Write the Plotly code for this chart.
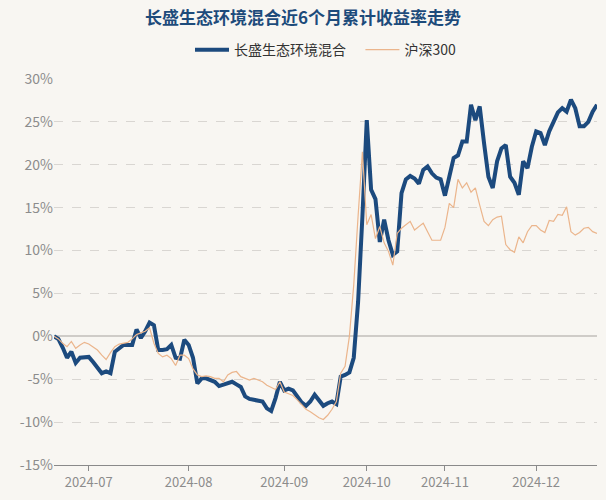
import pandas as pd
import plotly.graph_objects as go

title = "长盛生态环境混合近6个月累计收益率走势"
fund_name = "长盛生态环境混合"
index_name = "沪深300"

# trading days 2024-06-19 .. 2024-12-20 (A-share calendar)
holidays = ["2024-09-16", "2024-09-17", "2024-10-01", "2024-10-02",
            "2024-10-03", "2024-10-04", "2024-10-07"]
dates = [d.strftime("%Y-%m-%d") for d in pd.bdate_range("2024-06-19", "2024-12-20")
         if d.strftime("%Y-%m-%d") not in holidays]

fund = [
    0.0, -0.3, -1.3, -2.5, -1.8, -3.1, -2.5, -2.4, -2.4, -3.0,
    -3.6, -4.3, -4.1, -4.3, -1.8, -1.4, -1.0, -1.0, -1.0, 0.8,
    -0.2, 0.6, 1.6, 1.3, -1.6, -1.6, -1.5, -1.0, -2.5, -2.6,
    -0.4, -1.0, -2.5, -5.5, -4.9, -4.9, -5.1, -5.3, -5.8, -5.6,
    -5.5, -5.3, -5.6, -5.9, -7.0, -7.3, -7.4, -7.5, -7.6, -8.4,
    -8.7, -7.2, -5.3, -6.3, -6.1, -6.3, -7.1, -7.7, -8.1, -7.6,
    -6.8, -7.5, -8.1, -7.8, -7.6, -7.9, -4.7, -4.5, -4.2, -2.5,
    4.0, 14.0, 25.2, 17.1, 16.0, 11.0, 13.6, 11.2, 9.5, 9.9,
    16.7, 18.3, 18.7, 18.4, 17.8, 19.4, 19.8, 19.0, 18.5, 18.3,
    16.4, 18.6, 20.8, 21.1, 22.7, 22.7, 27.0, 25.2, 26.8, 22.5,
    18.6, 17.3, 20.4, 21.9, 22.3, 18.6, 17.9, 16.5, 20.4, 19.6,
    22.1, 23.9, 23.7, 22.3, 23.9, 25.0, 26.1, 26.6, 26.2, 27.6,
    26.6, 24.5, 24.5, 25.0, 26.2, 27.0,
]

hs300 = [
    0.0, -0.3, -0.8, -1.2, -0.6, -1.4, -1.0, -0.7, -0.9, -1.2,
    -1.6, -2.2, -2.7, -1.9, -1.2, -0.9, -0.8, -0.7, -0.3, 0.2,
    0.4, 0.6, 1.0, -0.8, -2.0, -2.4, -2.2, -2.6, -3.4, -2.2,
    -2.2, -2.6, -3.8, -4.5, -4.7, -4.6, -4.7, -4.9, -4.9, -5.3,
    -4.5, -4.2, -4.1, -4.7, -4.9, -5.1, -4.9, -5.1, -5.3, -5.7,
    -6.0, -6.2, -5.3, -6.5, -6.7, -6.9, -7.4, -7.9, -8.5, -8.8,
    -9.2, -9.5, -9.7, -9.2, -8.5, -7.6, -4.3, -3.5, 0.0, 6.0,
    14.0, 21.5, 13.0, 14.2, 11.4, 12.8, 10.9, 9.9, 8.3, 12.0,
    12.6, 13.0, 13.4, 12.4, 12.8, 13.2, 12.2, 11.2, 11.2, 11.2,
    12.7, 15.5, 15.0, 18.3, 17.3, 17.9, 16.8, 17.3, 15.3, 13.4,
    12.9, 13.6, 13.9, 14.0, 10.7, 10.1, 9.8, 11.6, 10.9, 12.2,
    12.9, 12.9, 12.4, 12.1, 13.5, 13.4, 14.2, 14.1, 15.1, 12.2,
    11.8, 12.1, 12.6, 12.7, 12.2, 12.0,
]

x_tick_dates = ["2024-07-01", "2024-08-01", "2024-09-02", "2024-10-08", "2024-11-01", "2024-12-02"]
x_tick_text = ["2024-07", "2024-08", "2024-09", "2024-10", "2024-11", "2024-12"]
y_ticks = [-15, -10, -5, 0, 5, 10, 15, 20, 25, 30]
y_tick_text = [f"{v}%" for v in y_ticks]

FONT = "Noto Sans CJK SC, Noto Sans, sans-serif"
BG = "#f8f6f2"
PAD = "\u00a0" * 3

fig = go.Figure()
fig.add_trace(go.Scatter(x=dates, y=fund, mode="lines", name=fund_name + PAD,
                         line=dict(color="#1c4a7e", width=4)))
fig.add_trace(go.Scatter(x=dates, y=hs300, mode="lines", name=index_name,
                         line=dict(color="#ebb58c", width=1.2)))

fig.update_layout(
    width=606, height=500,
    paper_bgcolor=BG, plot_bgcolor=BG,
    margin=dict(l=54, r=9, t=79, b=35, autoexpand=False),
    title=dict(text=f"<b>{title}</b>", x=0.5, xanchor="center", y=0.964, yanchor="middle",
               font=dict(size=17, color="#1d4b7b", family=FONT)),
    legend=dict(orientation="h", x=0.5, xanchor="center", y=1.075, yanchor="middle",
                font=dict(size=14, color="#333333", family=FONT),
                bgcolor="rgba(0,0,0,0)", itemwidth=34),
    showlegend=True,
    font=dict(family=FONT),
)
fig.update_xaxes(type="category", categoryorder="array", categoryarray=dates,
                 range=[0, len(dates) - 1],
                 tickmode="array", tickvals=x_tick_dates, ticktext=x_tick_text,
                 showgrid=False, showline=True, linecolor="#8a8a8a", linewidth=1,
                 ticks="outside", ticklen=5, tickcolor="#8a8a8a",
                 tickfont=dict(size=13, color="#8c8c8c", family=FONT),
                 zeroline=False)
fig.update_yaxes(range=[-15, 30], tickmode="array", tickvals=y_ticks, ticktext=y_tick_text,
                 showgrid=True, gridcolor="#d9d6d2", griddash="dash", gridwidth=1,
                 zeroline=True, zerolinecolor="#cfccc8", zerolinewidth=2,
                 tickfont=dict(size=14, color="#8c8c8c", family=FONT),
                 ticks="", showline=False)

fig.write_html("out.html", config={"displayModeBar": False},
               post_script=f"document.body.style.margin='0';document.body.style.background='{BG}';")
